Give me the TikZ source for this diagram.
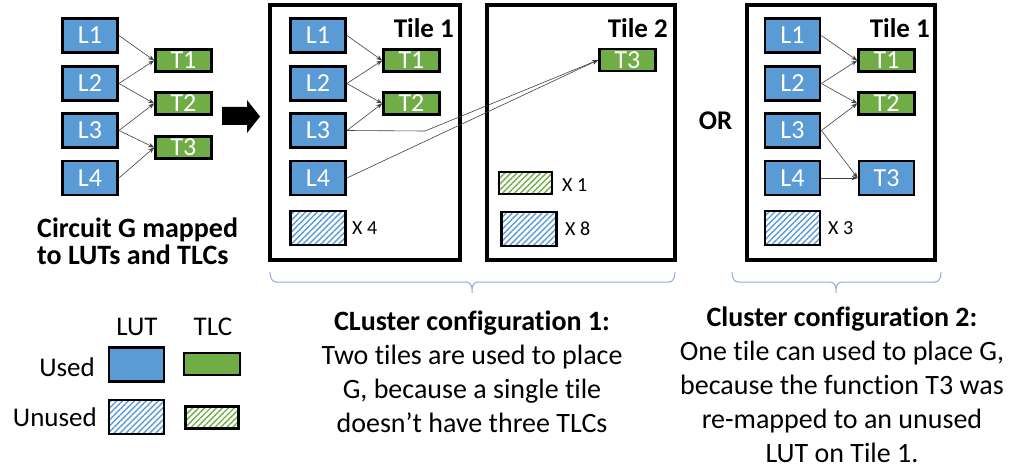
\documentclass[tikz,border=0pt]{standalone}
\usepackage{fontspec}
\setmainfont{Carlito}[Ligatures=NoCommon]
\usetikzlibrary{arrows.meta,patterns.meta}

\definecolor{lutblue}{HTML}{5B9BD5}
\definecolor{tlcgreen}{HTML}{70AD47}
\definecolor{wiregray}{HTML}{404040}
\definecolor{bracecol}{HTML}{8FAADC}

\tikzset{
  lut/.style={draw=black, line width=2.8pt, fill=lutblue, minimum width=55pt,
    minimum height=34pt, inner sep=0pt, text=white,
    font=\fontsize{26}{26}\selectfont},
  tlc/.style={draw=black, line width=2.6pt, fill=tlcgreen, minimum width=56pt,
    minimum height=22pt, inner sep=0pt, text=white,
    font=\fontsize{26}{26}\selectfont},
  freelut/.style={draw=black, line width=2.8pt, minimum width=55pt,
    minimum height=34pt, inner sep=0pt,
    pattern={Lines[angle=45,distance=4.2pt,line width=1.4pt]}, pattern color=lutblue},
  freetlc/.style={draw=black, line width=2.6pt, minimum width=53pt,
    minimum height=22pt, inner sep=0pt,
    pattern={Lines[angle=45,distance=4.2pt,line width=1.4pt]}, pattern color=tlcgreen},
  tileframe/.style={draw=black, line width=4pt},
  tilename/.style={font=\bfseries\fontsize{27}{27}\selectfont, inner sep=0pt},
  countlbl/.style={font=\fontsize{20}{20}\selectfont, anchor=west, inner sep=0pt},
  wire/.style={draw=wiregray, line width=0.6pt, -{Stealth[length=6pt,width=4.5pt]}},
  brace/.style={draw=bracecol, line width=1pt},
  body/.style={font=\fontsize{28}{34}\selectfont, align=center, inner sep=0pt},
  legendtxt/.style={font=\fontsize{27}{27}\selectfont, inner sep=0pt},
}

\begin{document}
\begin{tikzpicture}[x=1pt, y=-1pt]
\useasboundingbox (0,0) rectangle (1011,470);

% ---------- circuit G ----------
\node[lut] (gL1) at (90,35.5) {L1};
\node[lut] (gL2) at (90,83.5) {L2};
\node[lut] (gL3) at (90,130.5) {L3};
\node[lut] (gL4) at (90,178) {L4};
\node[tlc] (gT1) at (183.5,60.5) {T1};
\node[tlc] (gT2) at (183.5,103.5) {T2};
\node[tlc] (gT3) at (183.5,147.5) {T3};
\draw[wire] (gL1.east) -- (gT1.west);
\draw[wire] (gL2.east) -- (gT1.west);
\draw[wire] (gL2.east) -- (gT2.west);
\draw[wire] (gL3.east) -- (gT2.west);
\draw[wire] (gL3.east) -- (gT3.west);
\draw[wire] (gL4.east) -- (gT3.west);

\node[anchor=base west, inner sep=0pt, align=left,
      font=\bfseries\fontsize{28}{27}\selectfont] (gcap) at (37,265)
  {Circuit G mapped\\to LUTs and TLCs};

% block arrow
\fill[black] (222,107) -- (247,107) -- (247,100) -- (260,116.5)
  -- (247,133) -- (247,125) -- (222,125) -- cycle;

% ---------- configuration 1, tile 1 ----------
\draw[tileframe] (270,5) rectangle (460,260);
\node[tilename, anchor=base east] (t1name) at (454,38) {Tile 1};
\node[lut] (aL1) at (318,35.5) {L1};
\node[lut] (aL2) at (318,83.5) {L2};
\node[lut] (aL3) at (318,130.5) {L3};
\node[lut] (aL4) at (318,178) {L4};
\node[tlc] (aT1) at (411.5,60.5) {T1};
\node[tlc] (aT2) at (411.5,103.5) {T2};
\node[freelut] (aU) at (318,228) {};
\node[countlbl] (aUn) at (352,228) {X 4};

% ---------- configuration 1, tile 2 ----------
\draw[tileframe] (487,5) rectangle (675,260);
\node[tilename, anchor=base east] (t2name) at (668,38) {Tile 2};
\node[tlc] (bT3) at (627.5,60) {T3};
\node[freetlc] (bUT) at (525.5,183) {};
\node[countlbl] (bUTn) at (562,185) {X 1};
\node[freelut] (bU) at (529,229) {};
\node[countlbl] (bUn) at (565,229) {X 8};

\draw[wire] (aL1.east) -- (aT1.west);
\draw[wire] (aL2.east) -- (aT1.west);
\draw[wire] (aL2.east) -- (aT2.west);
\draw[wire] (aL3.east) -- (aT2.west);
\coordinate (bend) at (425,131);
\draw[wire] (aL3.east) -- (bend) -- (bT3.west);
\draw[wire] (aL4.east) -- (bT3.west);

% ---------- OR ----------
\node[font=\bfseries\fontsize{27}{27}\selectfont, inner sep=0pt] (orlbl) at (715.5,121) {OR};

% ---------- configuration 2, tile 1 ----------
\draw[tileframe] (747,5) rectangle (935,260);
\node[tilename, anchor=base east] (t3name) at (930,38) {Tile 1};
\node[lut] (cL1) at (792.5,35.5) {L1};
\node[lut] (cL2) at (792.5,83.5) {L2};
\node[lut] (cL3) at (792.5,130.5) {L3};
\node[lut] (cL4) at (792.5,178) {L4};
\node[tlc] (cT1) at (886.5,60.5) {T1};
\node[tlc] (cT2) at (886.5,103.5) {T2};
\node[lut] (cT3) at (886.5,178) {T3};
\node[freelut] (cU) at (792.5,228) {};
\node[countlbl] (cUn) at (828,228) {X 3};
\draw[wire] (cL1.east) -- (cT1.west);
\draw[wire] (cL2.east) -- (cT1.west);
\draw[wire] (cL2.east) -- (cT2.west);
\draw[wire] (cL3.east) -- (cT2.west);
\draw[wire] (cL3.east) -- (cT3.west);
\draw[wire] (cL4.east) -- (cT3.west);

% ---------- braces ----------
\draw[brace] (270,272) to[out=-90,in=180] (276,282) -- (466,282)
  to[out=0,in=90] (472,289) -- (472,293);
\draw[brace] (675,272) to[out=-90,in=0] (669,282) -- (478,282)
  to[out=180,in=90] (472,289);
\draw[brace] (732,272) to[out=-90,in=180] (738,282) -- (830,282)
  to[out=0,in=90] (836,289) -- (836,293);
\draw[brace] (941,272) to[out=-90,in=0] (935,282) -- (842,282)
  to[out=180,in=90] (836,289);

% ---------- descriptions ----------
\node[body, anchor=base] (desc1) at (472,432)
  {\textbf{CLuster configuration 1:}\\Two tiles are used to place\\G, because a single tile\\doesn’t have three TLCs};
\node[body, anchor=base] (desc2) at (842,462)
  {\textbf{Cluster configuration 2:}\\One tile can used to place G,\\because the function T3 was\\re-mapped to an unused\\LUT on Tile 1.};

% ---------- legend ----------
\node[legendtxt] (legLUT) at (137,327) {LUT};
\node[legendtxt] (legTLC) at (213,327) {TLC};
\node[legendtxt, anchor=east] (legUsed) at (95,367) {Used};
\node[legendtxt, anchor=east] (legUnused) at (97,417) {Unused};
\node[lut] (legL) at (136.5,364.5) {};
\node[tlc] (legT) at (212,364) {};
\node[freelut] (legLU) at (136.5,417) {};
\node[freetlc] (legTU) at (212,417.5) {};
\end{tikzpicture}
\end{document}
